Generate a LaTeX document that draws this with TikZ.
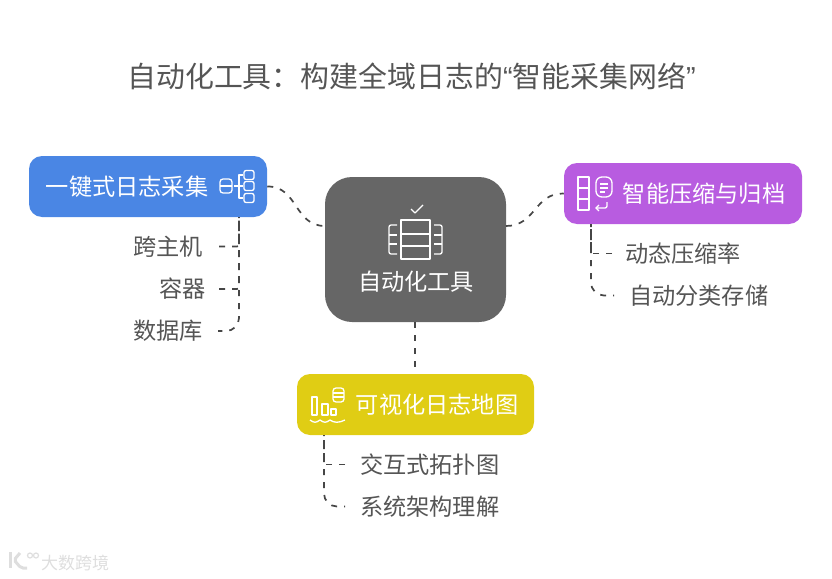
\documentclass[tikz,border=0pt]{standalone}
\usepackage{fontspec}
\usepackage{xcolor}
\setmainfont{Noto Sans CJK SC}
\newfontfamily\quotefont{Liberation Sans}
\usetikzlibrary{arrows.meta,positioning,calc}
\definecolor{logs@blue}{RGB}{74,134,228}
\definecolor{logs@dark}{RGB}{102,102,102}
\definecolor{logs@purple}{RGB}{184,92,224}
\definecolor{logs@yellow}{RGB}{224,205,20}
\definecolor{logs@text}{RGB}{85,85,85}
\definecolor{logs@line}{RGB}{70,70,70}
\definecolor{logs@mark}{RGB}{222,222,222}
\tikzset{
  logs/.style={
    x=1pt, y=-1pt,
    line width=0.5pt,
    every node/.style={inner sep=0pt}
  },
  boxnode/.style={                 % coloured box, its text sits on top
    rounded corners=13pt,
    minimum width=238pt,
    minimum height=61pt
  },
  boxtext/.style={text=white, font=\fontsize{23.2}{27}\selectfont},
  leafnode/.style={text=logs@text, font=\fontsize{23.2}{27}\selectfont, outer sep=15pt},
  link/.style={draw=logs@line, line width=1.7pt, dash pattern=on 6pt off 7pt},
  branch/.style={link, rounded corners=2pt},
  lastbranch/.style={link, rounded corners=13pt},
  icon/.style={draw=white, line width=1.3pt, line join=round}
}
\begin{document}
\begin{tikzpicture}[logs]
\useasboundingbox (0,0) rectangle (832,578);

% Title
\node[text=logs@text, font=\fontsize{28.9}{34}\selectfont] (title) at (411.5,76)
  {自动化工具：构建全域日志的{\quotefont “}智能采集网络{\quotefont ”}};

% Boxes
\node[boxnode, fill=logs@dark, rounded corners=27pt, minimum width=181pt, minimum height=145pt] (tool) at (415.5,249.5) {};
\node[boxnode, fill=logs@blue] (collect) at (148,186.5) {};
\node[boxnode, fill=logs@purple] (archive) at (683,193.5) {};
\node[boxnode, fill=logs@yellow, minimum width=237pt] (mapbox) at (415.5,404.5) {};

% Box texts
\node[boxtext] (tooltext) at (416,281.5) {自动化工具};
\node[boxtext] (collecttext) at (127,186.5) {一键式日志采集};
\node[boxtext] (archivetext) at (704,193.5) {智能压缩与归档};
\node[boxtext] (maptext) at (437,404.5) {可视化日志地图};

% Leaves
\node[leafnode, anchor=east, outer sep=16pt] (host) at (219,246.5) {跨主机};
\node[leafnode, anchor=east, outer sep=13pt] (container) at (219,289) {容器};
\node[leafnode, anchor=east] (database) at (218,331) {数据库};
\node[leafnode, anchor=west, outer sep=13pt] (ratio) at (612,253.5) {动态压缩率};
\node[leafnode, anchor=west] (classify) at (614,295.5) {自动分类存储};
\node[leafnode, anchor=west] (topology) at (345,464.5) {交互式拓扑图};
\node[leafnode, anchor=west] (understand) at (345,506.5) {系统架构理解};

% Edges from the centre
\coordinate (toolleft) at (325,226);
\coordinate (toolright) at (506,226);
\coordinate (toolfoot) at (415,322);
\coordinate (mapfoot) at (415,374);
\draw[link] (collect.east) .. controls (298,186) and (294,226) .. (toolleft);
\draw[link] (toolright) .. controls (536,226) and (534,193) .. (archive.west);
\draw[link] (toolfoot) -- (mapfoot);

% Edges to the leaves
\coordinate (collectroot) at (239,217);
\coordinate (archiveroot) at (591,224);
\coordinate (maproot) at (324,435);
\draw[branch] (host.east) -| (collectroot);
\draw[branch] (container.east) -| (collectroot);
\draw[lastbranch, dash phase=5pt] (collectroot) |- (database.east);
\draw[branch] (ratio.west) -| (archiveroot);
\draw[lastbranch, dash phase=3pt] (archiveroot) |- (classify.west);
\draw[branch] (topology.west) -| (maproot);
\draw[lastbranch, dash phase=5pt] (maproot) |- (understand.west);

% Icon of the centre box
\draw[icon] (411,209) -- (415,213) -- (423,205);
\draw[icon] (401,220) rectangle (430,259);
\draw[icon] (401,234) -- (430,234) (401,246) -- (430,246);
\draw[icon, rounded corners=2pt] (397,225) -- (389,225) -- (389,254) -- (397,254);
\draw[icon] (389,235) -- (397,235) (389,244) -- (397,244);
\draw[icon, rounded corners=2pt] (434,225) -- (442,225) -- (442,254) -- (434,254);
\draw[icon] (434,235) -- (442,235) (434,244) -- (442,244);

% Icon of the blue box
\draw[icon, rounded corners=3pt] (220,179) rectangle (232,193);
\draw[icon] (220,186) -- (232,186);
\draw[icon] (243,175) -- (239,175) -- (239,198) -- (243,198) (234,186) -- (243,186);
\foreach \y in {175,186,198}
  \draw[icon, rounded corners=2pt] (244,\y-4.5) rectangle (254,\y+4.5);

% Icon of the purple box
\draw[icon] (578,177) rectangle (589,210);
\draw[icon] (578,188) -- (589,188) (578,199) -- (589,199);
\draw[icon, rounded corners=6pt] (596,177) rectangle (612,197);
\draw[icon] (600,184) -- (608,184) (600,188) -- (608,188) (600,192) -- (605,192);
\draw[icon, rounded corners=2pt, -{Straight Barb[length=3pt]}] (607,202) -- (607,208) -- (595,208);

% Icon of the yellow box
\draw[icon] (312,415) -- (312,397) -- (317,397) -- (317,415) -- cycle;
\draw[icon] (322,415) -- (322,404) -- (328,404) -- (328,415) -- cycle;
\draw[icon] (331,415) -- (331,409) -- (336,409) -- (336,415) -- cycle;
\draw[icon, rounded corners=3pt] (333,388) rectangle (344,402);
\draw[icon] (333,393) -- (344,393) (333,397) -- (344,397);
\draw[icon] (310,420) .. controls (314,423) and (316,423) .. (320,420)
  .. controls (324,423) and (326,423) .. (330,420)
  .. controls (334,423) and (339,423) .. (345,420);

% Watermark
\draw[draw=logs@mark, line width=3pt] (10,552) -- (10,568);
\draw[draw=logs@mark, line width=3pt, rounded corners=2pt] (20,553) -- (14,560) -- (21,568) -- (27,568);
\draw[draw=logs@mark, line width=1.2pt] (30,555.5) circle (2.5pt) (36,555.5) circle (2.5pt);
\node[text=logs@mark, font=\fontsize{17}{20}\selectfont] (mark) at (75,563) {大数跨境};
\end{tikzpicture}
\end{document}
